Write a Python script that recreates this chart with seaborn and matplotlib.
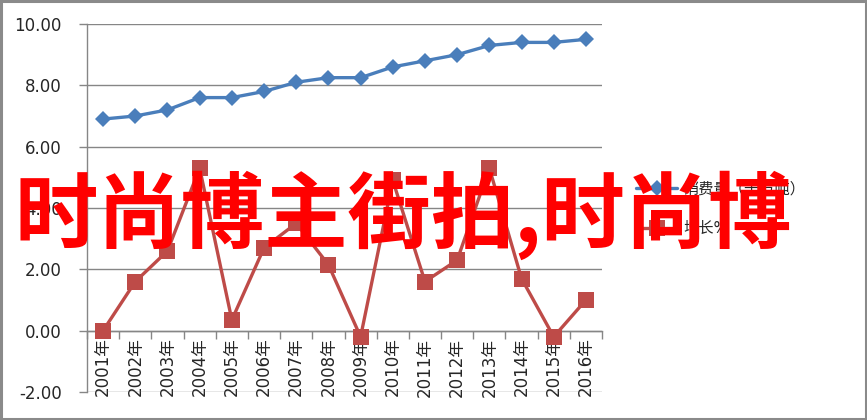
import matplotlib
matplotlib.use("Agg")
import matplotlib.pyplot as plt
from matplotlib.patches import Rectangle
from matplotlib.ticker import FixedLocator
import numpy as np
import pandas as pd
import seaborn as sns

years = [f"{y}年" for y in range(2001, 2017)]
consumption = [6.9, 7.0, 7.2, 7.6, 7.6, 7.8, 8.1, 8.25, 8.25, 8.6, 8.8, 9.0, 9.3, 9.4, 9.4, 9.5]
growth = [0.0, 1.6, 2.6, 5.3, 0.35, 2.7, 3.5, 2.15, -0.2, 4.9, 1.6, 2.3, 5.3, 1.7, -0.2, 1.0]
series_names = ["消费量（千万吨）", "增长%"]
yticks = [-2, 0, 2, 4, 6, 8, 10]
banner = "时尚博主街拍,时尚博"

sns.set_style("white")
plt.rcParams["font.family"] = ["DejaVu Sans", "Noto Sans CJK SC"]

df = pd.DataFrame({"idx": np.arange(len(years)), "consumption": consumption, "growth": growth})

fig = plt.figure(figsize=(8.67, 4.2), dpi=100)
ax = fig.add_axes([87 / 867, 1 - 392 / 420, (602 - 87) / 867, (392 - 24) / 420])

grid_c = "#868686"
blue = "#4A7EBB"
red = "#BE4B48"

sns.lineplot(data=df, x="idx", y="consumption", ax=ax, color=blue, lw=2.4,
             marker="D", markersize=8.5, markeredgewidth=0, sort=False,
             label=series_names[0], legend=False, zorder=4)
sns.lineplot(data=df, x="idx", y="growth", ax=ax, color=red, lw=2.4,
             marker="s", markersize=11, markeredgewidth=0, sort=False,
             label=series_names[1], legend=False, zorder=3)

ax.set_xlim(-0.5, len(years) - 0.5)
ax.set_ylim(-2, 10)
ax.set_yticks(yticks)
ax.set_yticklabels([f"{v:.2f}" for v in yticks], fontsize=12)
ax.yaxis.grid(True, color=grid_c, lw=1)
ax.set_axisbelow(True)

# category axis crosses at zero; ticks sit between categories
ax.spines["bottom"].set_position(("data", 0))
for s in ["top", "right"]:
    ax.spines[s].set_visible(False)
ax.spines["left"].set_color(grid_c)
ax.spines["bottom"].set_color(grid_c)
ax.spines["left"].set_linewidth(1)
ax.spines["bottom"].set_linewidth(1)

ax.xaxis.set_major_locator(FixedLocator(np.arange(-0.5, len(years), 1.0)))
ax.xaxis.set_minor_locator(FixedLocator(np.arange(len(years))))
ax.set_xticklabels([], minor=False)
ax.set_xticklabels(years, minor=True, rotation=90, fontsize=12, va="top", ha="center")
ax.tick_params(axis="x", which="major", direction="out", length=6, color=grid_c, width=1, bottom=True)
ax.tick_params(axis="x", which="minor", length=0, pad=5)
ax.tick_params(axis="y", direction="out", length=6, color=grid_c, width=1, left=True, pad=12)
ax.set_xlabel("")
ax.set_ylabel("")

handles, labels = ax.get_legend_handles_labels()
fig.legend(handles, labels, loc="center left", bbox_to_anchor=(630 / 867, 1 - 209 / 420),
           frameon=False, fontsize=11, handlelength=2.7, labelspacing=1.6,
           handletextpad=0.4, borderaxespad=0)

fig.text(14 / 867, 1 - 215 / 420, banner, color="#FF0000", fontsize=60, fontweight="bold",
         family=["Noto Sans CJK SC", "DejaVu Sans"], ha="left", va="center", zorder=10)

fig.patches.append(Rectangle((0.0015, 0.003), 0.997, 0.994, transform=fig.transFigure,
                             fill=False, edgecolor="#8A8A8A", lw=2.2, zorder=20))

fig.savefig("out.png", dpi=100)
